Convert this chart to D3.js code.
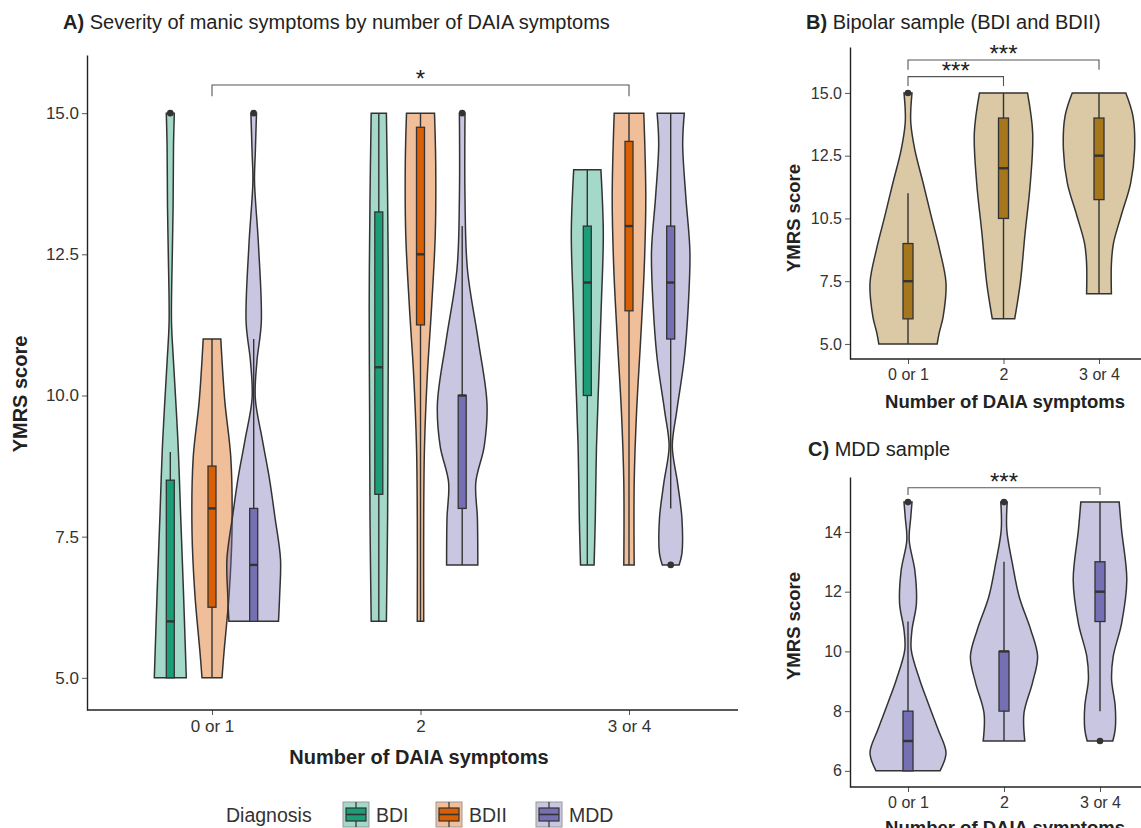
<!DOCTYPE html>
<html>
<head>
<meta charset="utf-8">
<script src="https://cdn.jsdelivr.net/npm/d3@7"></script>
<style>
  body { margin: 0; background: #fff; }
  text { font-family: "Liberation Sans", Arial, Helvetica, sans-serif; }
</style>
</head>
<body>
<svg id="chart" width="1141" height="828"></svg>
<script>
"use strict";

// categories
const cats = ["0 or 1", "2", "3 or 4"];
const diagnoses = ["BDI", "BDII", "MDD"];
const diagColors = ["#1b9e77", "#d95f02", "#7570b3"];
const bipolarColor = "#a6761d";
const mddColor = "#7570b3";

// tick values / labels
const yTicksA = [5, 7.5, 10, 12.5, 15];
const yLabelsA = ["5.0", "7.5", "10.0", "12.5", "15.0"];
const yTicksB = [5, 7.5, 10, 12.5, 15];
const yLabelsB = ["5.0", "7.5", "10.5", "12.5", "15.0"];
const yTicksC = [6, 8, 10, 12, 14];
const yLabelsC = ["6", "8", "10", "12", "14"];

// violin profiles: [YMRS score, relative density], one per DAIA group
const densA_BDI = [
  [[15, .10], [14.4, .08], [13.35, .07], [12.5, .05], [11.3, .03], [10.6, .08], [9.2, .19], [7.85, .26], [6.5, .33], [5, .40]],
  [[15, .19], [13.5, .22], [11.6, .24], [9.72, .23], [7.83, .22], [6, .19]],
  [[14, .34], [12.87, .40], [11.6, .35], [10.35, .29], [9.1, .23], [7.83, .20], [7, .17]]
];
const densA_BDII = [
  [[11, .22], [9.9, .32], [8.9, .47], [7.6, .50], [6.5, .43], [5.45, .30], [5, .25]],
  [[15, .35], [14.13, .38], [12.87, .37], [11.6, .28], [10.35, .17], [9.1, .10], [7.83, .08], [6, .08]],
  [[15, .37], [13.5, .42], [12.24, .38], [10.98, .29], [9.72, .19], [8.46, .13], [7, .13]]
];
const densA_MDD = [
  [[15, .07], [14.3, .04], [13.8, .02], [12.66, .12], [11.3, .19], [10.6, .08], [9.95, .04], [9.2, .22], [8.54, .39], [7.85, .53], [7.1, .67], [6.48, .65], [6, .62]],
  [[15, .07], [13.5, .07], [12.24, .13], [10.98, .40], [9.85, .62], [9.1, .55], [8.46, .34], [7.83, .38], [7, .39]],
  [[15, .34], [14.45, .30], [13.5, .38], [12.55, .48], [11.6, .44], [10.66, .34], [9.72, .15], [9.1, .04], [8.46, .17], [7.83, .28], [7.2, .28], [7, .21]]
];

// box stats: [lower whisker, q1, median, q3, upper whisker]
const boxA_BDI = [[5, 5, 6, 8.5, 9], [6, 8.25, 10.5, 13.25, 15], [7, 10, 12, 13, 14]];
const boxA_BDII = [[5, 6.25, 8, 8.75, 11], [6, 11.25, 12.5, 14.75, 15], [7, 11.5, 13, 14.5, 15]];
const boxA_MDD = [[6, 6, 7, 8, 11], [7, 8, 10, 10, 13], [8, 11, 12, 13, 15]];
const outA_BDI = [[15], [], []];
const outA_BDII = [[], [], []];
const outA_MDD = [[15], [15], [7]];

const densB = [
  [[15, .10], [14.34, .07], [13.8, .07], [12.74, .17], [11.4, .38], [10.09, .58], [8.76, .79], [7.43, .95], [6.1, .88], [5.44, .78], [5, .73]],
  [[15, .60], [13.4, .73], [11.4, .67], [9.42, .54], [7.43, .42], [6, .28]],
  [[15, .67], [14.07, .85], [12.74, .89], [11.4, .79], [10.09, .55], [9, .36], [8.2, .31], [7, .31]]
];
const boxB = [[5, 6, 7.5, 9, 11], [6, 10, 12, 14, 15], [7, 10.75, 12.5, 14, 15]];
const outB = [[15], [], []];

const densC = [
  [[15, .10], [14.5, .07], [13.72, .03], [12.72, .17], [11.6, .21], [10.72, .10], [10.06, .08], [9.06, .29], [8.28, .50], [7.39, .75], [6.61, .95], [6, .80]],
  [[15, .08], [14.06, .07], [12.94, .21], [11.83, .38], [10.72, .67], [9.83, .84], [8.94, .71], [7.94, .50], [7, .52]],
  [[15, .48], [14.06, .54], [12.39, .67], [10.94, .54], [9.83, .33], [9.06, .29], [8.17, .38], [7.39, .38], [7, .32]]
];
const boxC = [[6, 6, 7, 8, 11], [7, 8, 10, 10, 13], [8, 11, 12, 13, 15]];
const outC = [[15], [15], [7]];

// significance brackets: from, to, bracket level, tick end level, label
const sigA = [["0 or 1", "3 or 4", 15.5, 15.3, "*"]];
const sigB = [["0 or 1", "2", 15.65, 15.28, "***"], ["0 or 1", "3 or 4", 16.31, 15.92, "***"]];
const sigC = [["0 or 1", "3 or 4", 15.48, 15.24, "***"]];

const svg = d3.select("#chart");
const ink = "#333";

function drawViolins(g, items, y, w) {
  const area = d3.area()
    .curve(d3.curveCatmullRom.alpha(0.5))
    .y(d => y(d[0]));
  items.forEach(it => {
    g.append("path")
      .datum(it.dens)
      .attr("d", area.x0(d => it.cx - w(d[1])).x1(d => it.cx + w(d[1])))
      .attr("fill", it.color)
      .attr("fill-opacity", 0.4)
      .attr("stroke", ink)
      .attr("stroke-width", 1.5);
  });
  items.forEach(it => {
    const [lo, q1, med, q3, hi] = it.box;
    const bw = it.boxW;
    g.append("line")
      .attr("x1", it.cx).attr("x2", it.cx)
      .attr("y1", y(hi)).attr("y2", y(lo))
      .attr("stroke", ink).attr("stroke-width", 1.4);
    g.append("rect")
      .attr("x", it.cx - bw / 2).attr("width", bw)
      .attr("y", y(q3)).attr("height", y(q1) - y(q3))
      .attr("fill", it.color)
      .attr("stroke", ink).attr("stroke-width", 1.3);
    g.append("line")
      .attr("x1", it.cx - bw / 2).attr("x2", it.cx + bw / 2)
      .attr("y1", y(med)).attr("y2", y(med))
      .attr("stroke", ink).attr("stroke-width", 2.4);
    g.selectAll(null)
      .data(it.out)
      .join("circle")
      .attr("cx", it.cx).attr("cy", d => y(d))
      .attr("r", 3.3)
      .attr("fill", ink);
  });
}

function drawAxes(g, x, y, o) {
  const ya = d3.axisLeft(y)
    .tickValues(o.yTicks)
    .tickFormat((d, i) => o.yLabels[i])
    .tickSize(5).tickPadding(3).tickSizeOuter(0);
  const yg = g.append("g").attr("transform", `translate(${o.left},0)`).call(ya);
  yg.select(".domain").attr("stroke", "#222").attr("stroke-width", 1.4);
  yg.selectAll(".tick line").attr("stroke", "#555");
  yg.selectAll(".tick text").attr("fill", ink).style("font-size", o.fs + "px");

  const xa = d3.axisBottom(x).tickSize(5).tickPadding(5).tickSizeOuter(0);
  const xg = g.append("g").attr("transform", `translate(0,${o.bottom})`).call(xa);
  xg.select(".domain").remove();
  xg.append("line")
    .attr("x1", o.left).attr("x2", o.right)
    .attr("stroke", "#222").attr("stroke-width", 1.4);
  xg.selectAll(".tick line").attr("stroke", "#555");
  xg.selectAll(".tick text").attr("fill", ink).style("font-size", o.fs + "px");

  g.append("text")
    .attr("transform", `translate(${o.yTitleX},${o.yTitleY}) rotate(-90)`)
    .attr("text-anchor", "middle")
    .attr("dominant-baseline", "middle")
    .style("font-size", o.titleFs + "px").style("font-weight", "bold")
    .attr("fill", "#222")
    .text("YMRS score");
  g.append("text")
    .attr("x", o.xTitleX).attr("y", o.xTitleY)
    .attr("text-anchor", "middle")
    .style("font-size", o.titleFs + "px").style("font-weight", "bold")
    .attr("fill", "#222")
    .text("Number of DAIA symptoms");
}

function drawBrackets(g, x, y, sigs) {
  sigs.forEach(s => {
    const [a, b, lev, end, lab] = s;
    g.append("path")
      .attr("d", `M${x(a)},${y(end)}V${y(lev)}H${x(b)}V${y(end)}`)
      .attr("fill", "none").attr("stroke", "#555").attr("stroke-width", 1.1);
    g.append("text")
      .attr("x", (x(a) + x(b)) / 2).attr("y", y(lev) + 2)
      .attr("text-anchor", "middle")
      .style("font-size", "24px").attr("fill", "#222")
      .text(lab);
  });
}

function panelTitle(x0, y0, tag, rest) {
  const t = svg.append("text").attr("x", x0).attr("y", y0)
    .style("font-size", "20px").attr("fill", "#222");
  t.append("tspan").style("font-weight", "bold").text(tag);
  t.append("tspan").text(" " + rest);
}

// ---------- Panel A ----------
const gA = svg.append("g");
const xA = d3.scalePoint().domain(cats).range([212, 629]);
const yA = d3.scaleLinear().domain([4.43, 16.03]).range([710, 55]);
const wA = d3.scaleLinear().domain([0, 1]).range([0, 40]);
const dodge = d3.scalePoint().domain(diagnoses).range([-41.7, 41.7]);

const densA = [densA_BDI, densA_BDII, densA_MDD];
const boxA = [boxA_BDI, boxA_BDII, boxA_MDD];
const outA = [outA_BDI, outA_BDII, outA_MDD];
const itemsA = [];
cats.forEach((c, ci) => {
  diagnoses.forEach((dg, di) => {
    itemsA.push({
      cx: xA(c) + dodge(dg),
      dens: densA[di][ci], box: boxA[di][ci], out: outA[di][ci],
      color: diagColors[di], boxW: 8
    });
  });
});
drawAxes(gA, xA, yA, {
  left: 87, right: 738, bottom: 710, yTicks: yTicksA, yLabels: yLabelsA, fs: 17,
  titleFs: 20, yTitleX: 22, yTitleY: 394, xTitleX: 419, xTitleY: 764
});
drawViolins(gA, itemsA, yA, wA);
drawBrackets(gA, xA, yA, sigA);
panelTitle(63, 29, "A)", "Severity of manic symptoms by number of DAIA symptoms");

// ---------- Panel B ----------
const gB = svg.append("g");
const xB = d3.scalePoint().domain(cats).range([908, 1099]);
const yB = d3.scaleLinear().domain([4.40, 16.83]).range([359, 47]);
const itemsB = cats.map((c, i) => ({
  cx: xB(c), dens: densB[i], box: boxB[i], out: outB[i], color: bipolarColor, boxW: 10
}));
drawAxes(gB, xB, yB, {
  left: 850, right: 1141, bottom: 359, yTicks: yTicksB, yLabels: yLabelsB, fs: 16,
  titleFs: 18.5, yTitleX: 795, yTitleY: 218, xTitleX: 1005, xTitleY: 408
});
drawViolins(gB, itemsB, yB, wA);
drawBrackets(gB, xB, yB, sigB);
panelTitle(806, 29, "B)", "Bipolar sample (BDI and BDII)");

// ---------- Panel C ----------
const gC = svg.append("g");
const xC = d3.scalePoint().domain(cats).range([908, 1100]);
const yC = d3.scaleLinear().domain([5.46, 15.84]).range([787, 477]);
const itemsC = cats.map((c, i) => ({
  cx: xC(c), dens: densC[i], box: boxC[i], out: outC[i], color: mddColor, boxW: 10
}));
drawAxes(gC, xC, yC, {
  left: 850, right: 1141, bottom: 787, yTicks: yTicksC, yLabels: yLabelsC, fs: 16,
  titleFs: 18.5, yTitleX: 795, yTitleY: 626, xTitleX: 1005, xTitleY: 834
});
drawViolins(gC, itemsC, yC, wA);
drawBrackets(gC, xC, yC, sigC);
panelTitle(808, 456, "C)", "MDD sample");

// ---------- Legend ----------
const gL = svg.append("g");
gL.append("text").attr("x", 226).attr("y", 822)
  .style("font-size", "19.5px").attr("fill", ink).text("Diagnosis");
const legX = d3.scaleOrdinal().domain(diagnoses).range([343, 436, 536]);
diagnoses.forEach((dg, i) => {
  const x0 = legX(dg);
  const k = gL.append("g");
  k.append("rect").attr("x", x0).attr("y", 802).attr("width", 26).attr("height", 25)
    .attr("fill", diagColors[i]).attr("fill-opacity", 0.4)
    .attr("stroke", "#999").attr("stroke-width", 1);
  k.append("line").attr("x1", x0 + 13).attr("x2", x0 + 13).attr("y1", 802).attr("y2", 827)
    .attr("stroke", ink).attr("stroke-width", 1.2);
  k.append("rect").attr("x", x0 + 3).attr("y", 808).attr("width", 20).attr("height", 13)
    .attr("fill", diagColors[i]).attr("stroke", ink).attr("stroke-width", 1.2);
  k.append("line").attr("x1", x0 + 3).attr("x2", x0 + 23).attr("y1", 814.5).attr("y2", 814.5)
    .attr("stroke", ink).attr("stroke-width", 1.6);
  gL.append("text").attr("x", x0 + 33).attr("y", 822)
    .style("font-size", "19.5px").attr("fill", ink).text(dg);
});
</script>
</body>
</html>
